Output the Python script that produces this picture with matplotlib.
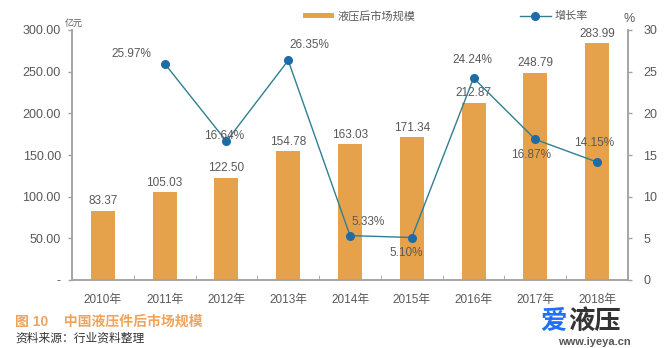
import numpy as np
import matplotlib.pyplot as plt

plt.rcParams['font.family'] = ['Liberation Sans', 'Noto Sans CJK SC', 'DejaVu Sans']

# === Data ===
years = ['2010年', '2011年', '2012年', '2013年', '2014年', '2015年', '2016年', '2017年', '2018年']
market_size = [83.37, 105.03, 122.50, 154.78, 163.03, 171.34, 212.87, 248.79, 283.99]  # 亿元
growth_rate = [25.97, 16.64, 26.35, 5.33, 5.10, 24.24, 16.87, 14.15]  # %, 2011-2018

# label offsets (points) for the growth-rate labels
growth_offsets = [(-24, 7), (-1.5, 3.5), (15, 11), (13, 10), (-4, -11), (-1, 13), (-3, -11.5), (-2, 14)]

bar_color = '#E6A24B'
line_color = '#2F7F92'
marker_color = '#1E6CA6'
text_gray = '#595959'
axis_gray = '#A3A3A3'

fig = plt.figure(figsize=(6.64, 3.48), dpi=100)
W, H = 664, 348
ax = fig.add_axes([72 / W, 1 - 280 / H, 556 / W, 250 / H])
x = np.arange(len(years))

bars = ax.bar(x, market_size, width=0.39, color=bar_color, label='液压后市场规模', zorder=2)
for xi, v in zip(x, market_size):
    ax.annotate(f'{v:.2f}', (xi, v), xytext=(0, 2.5), textcoords='offset points',
                ha='center', va='bottom', fontsize=8.5, color=text_gray)

ax.set_xlim(-0.5, len(years) - 0.5)
ax.set_ylim(0, 300)
ax.set_yticks(np.arange(0, 301, 50))
ax.set_yticklabels(['-'] + [f'{v:.2f}' for v in np.arange(50, 301, 50)])
ax.set_xticks(x)
ax.set_xticklabels(years)
ax.set_xticks(np.arange(-0.5, len(years), 1), minor=True)
ax.tick_params(axis='x', which='major', length=0, pad=10, labelsize=8.5, colors=text_gray)
ax.tick_params(axis='x', which='minor', length=3.5, direction='in', color=axis_gray)
ax.tick_params(axis='y', length=3, width=1, color=axis_gray, labelsize=9, labelcolor=text_gray, pad=5)

ax2 = ax.twinx()
gx = x[1:]
line, = ax2.plot(gx, growth_rate, color=line_color, lw=1, marker='o', ms=5.5,
                 mfc=marker_color, mec=marker_color, label='增长率', zorder=3)
for xi, v, off in zip(gx, growth_rate, growth_offsets):
    ax2.annotate(f'{v:.2f}%', (xi, v), xytext=off, textcoords='offset points',
                 ha='center', va='center', fontsize=8.5, color=text_gray)
ax2.set_ylim(0, 30)
ax2.set_yticks(np.arange(0, 31, 5))
ax2.tick_params(axis='y', length=3, width=1, color=axis_gray, labelsize=9, labelcolor=text_gray, pad=8)

for a in (ax, ax2):
    a.spines['top'].set_visible(False)
    for s in ('left', 'right', 'bottom'):
        a.spines[s].set_color(axis_gray)
        a.spines[s].set_linewidth(1.1)

# units
fig.text(74 / W, 1 - 23 / H, '亿元', fontsize=6.5, color=text_gray, ha='center', va='center')
fig.text(629 / W, 1 - 19 / H, '%', fontsize=9, color=text_gray, ha='center', va='center')

# legend
fig.legend(handles=[bars, line], loc='center left', bbox_to_anchor=(303 / W, 1 - 16 / H),
           ncol=2, frameon=False, fontsize=8, labelcolor=text_gray, columnspacing=9.4,
           handlelength=2.8, handleheight=0.45, handletextpad=0.3,
           borderpad=0, borderaxespad=0)

# caption and source
fig.text(15 / W, 1 - 322 / H, '图 10    中国液压件后市场规模', fontsize=10, fontweight='bold',
         color='#F0A35A', ha='left', va='center')
fig.text(15 / W, 1 - 339 / H, '资料来源：行业资料整理', fontsize=8.5, color='#333333',
         ha='left', va='center')

# site mark
fig.text(540 / W, 1 - 322 / H, '爱', fontsize=19, fontweight='bold', color='#1E6FFF',
         ha='left', va='center')
fig.text(568 / W, 1 - 322 / H, '液压', fontsize=19, fontweight='bold', color='#333333',
         ha='left', va='center')
fig.text(594 / W, 1 - 342 / H, 'www.iyeya.cn', fontsize=8, fontweight='bold', color='#555555',
         ha='center', va='center')

fig.savefig('out.png', dpi=100)
